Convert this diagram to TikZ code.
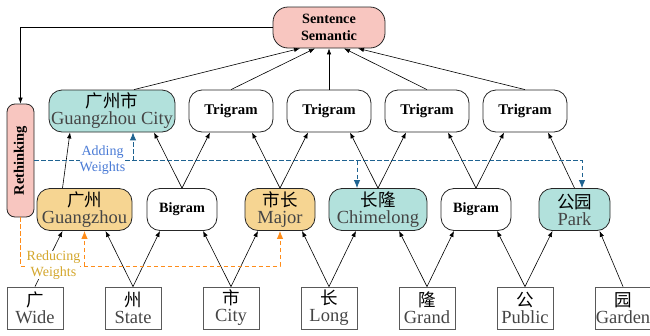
\documentclass[tikz,border=0pt]{standalone}
\usepackage{fontspec}
\usepackage{graphicx}
\setmainfont{Liberation Serif}
\newfontfamily\zhfont{Noto Sans CJK SC}
\usetikzlibrary{arrows.meta}
\definecolor{pinkfill}{HTML}{F8C6C0}
\definecolor{tealfill}{HTML}{B2E1DC}
\definecolor{orfill}{HTML}{F6D592}
\definecolor{bluedash}{HTML}{1F6391}
\definecolor{ordash}{HTML}{FF8C19}
\definecolor{bluetext}{HTML}{4A7BD6}
\definecolor{goldtext}{HTML}{D4A72C}
\definecolor{engray}{HTML}{454545}
\newcommand\zh[1]{{\zhfont\fontsize{17.5}{17}\selectfont #1}}
\newcommand\en[1]{{\color{engray}\fontsize{18.5}{17}\selectfont #1}}
\begin{document}
\begin{tikzpicture}[x=1pt,y=-1pt,
  rbox/.style={draw=black!85, line width=0.8pt, rounded corners=13pt, align=center, inner sep=0pt, minimum height=42pt, font=\fontsize{18}{17}\selectfont},
  gram/.style={rbox, fill=white, minimum width=84pt, font=\bfseries\fontsize{14.8}{16}\selectfont},
  bgram/.style={rbox, fill=white, minimum width=70pt, font=\bfseries\fontsize{14.2}{16}\selectfont},
  tealbox/.style={rbox, fill=tealfill},
  orbox/.style={rbox, fill=orfill},
  wordbox/.style={draw=black!65, line width=0.8pt, minimum width=56pt, minimum height=42pt, inner sep=0pt, align=center, font=\fontsize{18}{17}\selectfont},
  arr/.style={-{Latex[length=6pt,width=4.5pt]}, line width=0.6pt, black},
  bdash/.style={dashed, dash pattern=on 4.5pt off 2.5pt, line width=0.9pt, bluedash, -{Latex[length=8pt,width=6.5pt]}},
  odash/.style={dashed, dash pattern=on 4.5pt off 2.5pt, line width=0.9pt, ordash, -{Latex[length=8pt,width=6.5pt]}},
  lbl/.style={fill=white, inner sep=0pt, align=center, font=\fontsize{14}{16}\selectfont}
]
\useasboundingbox (0,0) rectangle (650,335);
% top
\node[rbox, fill=pinkfill, minimum width=112pt, minimum height=41pt, rounded corners=15pt, font=\bfseries\fontsize{14.2}{16.5}\selectfont] (s) at (329,27.5) {Sentence\\Semantic};
\node[rbox, fill=pinkfill, minimum width=27pt, minimum height=113pt, rounded corners=8pt, font=\bfseries\fontsize{14.5}{16}\selectfont] (rt) at (20.5,160.5) {\rotatebox{90}{Rethinking}};
% trigram row
\node[tealbox, minimum width=126pt] (t0) at (112,111) {\zh{广州市}\\\en{Guangzhou City}};
\node[gram] (t1) at (231,111) {Trigram};
\node[gram] (t2) at (329,111) {Trigram};
\node[gram] (t3) at (427,111) {Trigram};
\node[gram] (t4) at (525,111) {Trigram};
% middle row
\node[orbox, minimum width=95pt] (m1) at (84.5,209.5) {\zh{广州}\\\en{Guangzhou}};
\node[bgram] (m2) at (182,209.5) {Bigram};
\node[orbox, minimum width=70pt] (m3) at (280,209.5) {\zh{市长}\\\en{Major}};
\node[tealbox, minimum width=98pt] (m4) at (378,209.5) {\zh{长隆}\\\en{Chimelong}};
\node[bgram] (m5) at (476,209.5) {Bigram};
\node[tealbox, minimum width=71pt] (m6) at (574.5,209.5) {\zh{公园}\\\en{Park}};
% bottom row
\node[wordbox] (w1) at (35,308) {\zh{广}\\\en{Wide}};
\node[wordbox] (w2) at (133,308) {\zh{州}\\\en{State}};
\node[wordbox] (w3) at (231,308) {\zh{市}\\\en{City}};
\node[wordbox] (w4) at (329,308) {\zh{长}\\\en{Long}};
\node[wordbox] (w5) at (427,308) {\zh{隆}\\\en{Grand}};
\node[wordbox] (w6) at (525,308) {\zh{公}\\\en{Public}};
\node[wordbox] (w7) at (623,308) {\zh{园}\\\en{Garden}};
% bottom -> middle
\draw[arr] (w1.north) -- ([xshift=-22pt]m1.south);
\draw[arr] (w2.north) -- ([xshift=21pt]m1.south);
\draw[arr] (w2.north) -- ([xshift=-22pt]m2.south);
\draw[arr] (w3.north) -- ([xshift=21pt]m2.south);
\draw[arr] (w3.north) -- ([xshift=-22pt]m3.south);
\draw[arr] (w4.north) -- ([xshift=22pt]m3.south);
\draw[arr] (w4.north) -- ([xshift=-22pt]m4.south);
\draw[arr] (w5.north) -- ([xshift=21pt]m4.south);
\draw[arr] (w5.north) -- ([xshift=-22pt]m5.south);
\draw[arr] (w6.north) -- ([xshift=21pt]m5.south);
\draw[arr] (w6.north) -- ([xshift=-22pt]m6.south);
\draw[arr] (w7.north) -- ([xshift=25pt]m6.south);
% middle -> top
\draw[arr] ([xshift=-22pt]m1.north) -- ([xshift=-42pt]t0.south);
\draw[arr] (m2.north) -- ([xshift=42pt]t0.south);
\draw[arr] (m2.north) -- ([xshift=-21pt]t1.south);
\draw[arr] (m3.north) -- ([xshift=21pt]t1.south);
\draw[arr] (m3.north) -- ([xshift=-21pt]t2.south);
\draw[arr] (m4.north) -- ([xshift=21pt]t2.south);
\draw[arr] (m4.north) -- ([xshift=-21pt]t3.south);
\draw[arr] (m5.north) -- ([xshift=21pt]t3.south);
\draw[arr] (m5.north) -- ([xshift=-21pt]t4.south);
\draw[arr] (m6.north) -- ([xshift=23pt]t4.south);
% top -> sentence
\draw[arr] ([xshift=22pt]t0.north) -- ([xshift=-29pt]s.south);
\draw[arr] (t1.north) -- ([xshift=-14pt]s.south);
\draw[arr] (t2.north) -- (s.south);
\draw[arr] (t3.north) -- ([xshift=15pt]s.south);
\draw[arr] (t4.north) -- ([xshift=29pt]s.south);
% sentence -> rethinking
\draw[arr] (s.west) -| (rt.north);
% adding weights (blue)
\coordinate (a1) at ([xshift=21pt]t0.south);
\coordinate (a2) at ([xshift=-21pt]m4.north);
\draw[bdash] (rt.east) -| ([xshift=7.5pt]m6.north);
\draw[bdash] (a1 |- rt.east) -- (a1);
\draw[bdash] (a2 |- rt.east) -- (a2);
% reducing weights (orange)
\coordinate (ob) at (0,266);
\draw[odash] (rt.south) |- (ob -| m3.south) -- (m3.south);
\draw[odash] (m1.south |- ob) -- (m1.south);
% labels
\node[lbl, text=bluetext] (lab) at (102.5,160) {Adding\\Weights};
\node[lbl, text=goldtext] (lrw) at (53.5,265) {Reducing\\Weights};
\end{tikzpicture}
\end{document}
